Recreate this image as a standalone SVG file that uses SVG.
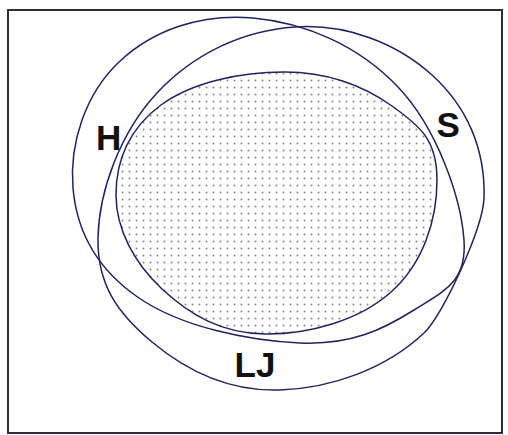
<svg xmlns="http://www.w3.org/2000/svg" width="508" height="435" viewBox="0 0 508 435">
<style>
.ring{fill:none;stroke:#22225e;stroke-width:1.5}
.lbl{font-family:"Liberation Sans",Arial,sans-serif;font-weight:bold;font-size:35px;fill:#111}
</style>
<defs>
<pattern id="dots" patternUnits="userSpaceOnUse" x="0" y="0" width="7" height="7">
<circle cx="3.5" cy="3.5" r="0.95" fill="#858585"/>
</pattern>
</defs>
<rect x="0" y="0" width="508" height="435" fill="#fff"/>
<rect id="frame" x="8" y="10" width="494" height="423" fill="none" stroke="#2d2d3d" stroke-width="2"/>
<g id="shaded">
<path class="ring" style="fill:url(#dots)" d="M116,195 C115.81,160.5 129.31,128.06 161,105 C192.69,81.94 241.7,71.8 285,72 C328.3,72.19 363.5,85.75 392,106 C420.5,126.25 437,140 437,180 C437,220 423.25,263.12 391,292 C358.75,320.88 307.94,334.56 265,334 C222.06,333.44 189.94,315.06 162,289 C134.06,262.94 116.19,229.5 116,195 Z"/>
</g>
<g id="ring-p">
<path class="ring" d="M73,188 C69.25,143.75 85.25,93.88 119,62 C152.75,30.12 200.69,13.31 253,18 C305.31,22.69 358.44,45.37 398,87 C437.56,128.63 461,198.19 464,240 C467,281.81 444.75,290.69 414,310 C383.25,329.31 351.56,345.25 300,343 C248.44,340.75 181.56,327.06 139,298 C96.44,268.94 76.75,232.25 73,188 Z"/>
</g>
<g id="ring-q">
<path class="ring" d="M98,238 C98.94,191.31 120.06,132.56 157,93 C193.94,53.44 243.44,30.38 295,27 C346.56,23.62 396.56,42.94 432,75 C467.44,107.06 485.5,149.62 484,198 C483,228 443.1,315 424,333 C385.75,369 331,388.31 280,390 C229,391.69 186.13,370.5 152,342 C117.87,313.5 97.06,284.69 98,238 Z"/>
</g>
<g id="label-h"><text class="lbl" x="96" y="150">H</text></g>
<g id="label-s"><text class="lbl" x="436.5" y="137">S</text></g>
<g id="label-lj"><text class="lbl" x="234.5" y="377">LJ</text></g>
</svg>
